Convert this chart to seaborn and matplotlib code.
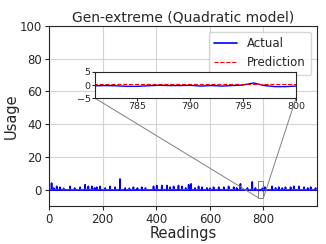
import numpy as np
import seaborn as sns
import matplotlib.pyplot as plt
from mpl_toolkits.axes_grid1.inset_locator import mark_inset

n_readings = 1000
baseline = -0.3
pred_level = 0.25

# spikes (reading index, usage)
spike_idx = [10, 18, 29, 41, 55, 79, 96, 116, 135, 147, 160, 170, 178, 191, 210,
             228, 247, 265, 284, 300, 315, 330, 346, 360, 390, 402, 421, 440, 452,
             465, 483, 496, 510, 521, 530, 545, 558, 571, 589, 600, 614, 633, 652,
             670, 689, 700, 714, 740, 758, 770, 805, 832, 845, 857, 870, 882, 901,
             913, 932, 951, 965, 976, 994]
spike_val = [4.0, 1.0, 2.0, 1.5, 0.8, 2.0, 1.0, 1.5, 3.0, 2.0, 2.0, 1.0, 1.5, 2.0, 1.0,
             2.0, 1.5, 6.5, 1.0, 0.8, 1.5, 1.0, 1.5, 1.0, 2.0, 2.5, 2.5, 2.5, 1.5,
             2.0, 2.5, 2.0, 1.0, 3.0, 3.5, 1.0, 2.0, 1.5, 1.0, 0.8, 1.5, 1.5, 1.5,
             2.0, 1.5, 1.0, 3.5, 1.0, 4.7, 1.0, 1.5, 2.0, 1.0, 1.5, 1.0, 1.5, 1.5,
             2.0, 2.0, 1.5, 1.0, 1.5, 1.0]

# zoomed window 782..800
zoom_idx = list(range(782, 801))
zoom_val = [-0.2, -0.3, -0.5, -0.5, -0.3, -0.1, -0.2, -0.2, -0.1, -0.4,
            -0.2, -0.4, -0.2, 0.0, 0.8, -0.2, -0.6, -0.6, -0.4]

readings = np.arange(n_readings)
actual = np.full(n_readings, baseline)
actual[spike_idx] = spike_val
actual[zoom_idx] = zoom_val
prediction = np.full(n_readings, pred_level)

sns.set_style("ticks", {"axes.grid": True, "grid.color": "#d4d4d4"})
plt.rcParams['font.family'] = ['DejaVu Sans']

fig = plt.figure(figsize=(3.26, 2.44), dpi=100)
ax = fig.add_axes([0.150, 0.156, 0.822, 0.737])

sns.lineplot(x=readings, y=actual, ax=ax, color="blue", lw=1.2, label="Actual")
sns.lineplot(x=readings, y=prediction, ax=ax, color="red", lw=0.8,
             linestyle="--", label="Prediction")
ax.set_xlim(0, 999)
ax.set_ylim(-10, 100)
ax.set_xticks([0, 200, 400, 600, 800])
ax.set_title("Gen-extreme (Quadratic model)", fontsize=10, pad=3)
ax.set_xlabel("Readings", fontsize=10.5, labelpad=0)
ax.set_ylabel("Usage", fontsize=10.5, labelpad=1)
ax.tick_params(labelsize=8.5, length=3, pad=2)
ax.legend(loc="upper right", fontsize=8.5, frameon=True, borderpad=0.45,
          handlelength=2.0, fancybox=True, framealpha=0.8, edgecolor="#cccccc")

axins = fig.add_axes([0.291, 0.598, 0.617, 0.107])
axins.plot(readings, actual, color="blue", lw=1.0)
axins.plot(readings, prediction, color="red", lw=0.8, linestyle="--")
axins.set_xlim(781, 800)
axins.set_ylim(-5, 5)
axins.set_xticks([785, 790, 795, 800])
axins.set_yticks([-5, 0, 5])
axins.grid(False)
axins.tick_params(labelsize=6.8, length=2, pad=1)
mark_inset(ax, axins, loc1=3, loc2=4, fc="none", ec="0.5", lw=0.7)

fig.savefig("out.png", dpi=100)
